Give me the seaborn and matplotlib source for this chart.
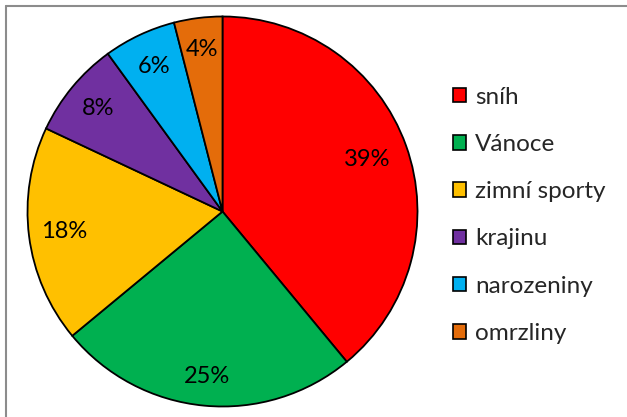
import matplotlib
matplotlib.use("Agg")
import matplotlib.pyplot as plt
import seaborn as sns
import numpy as np
from matplotlib.patches import Patch
from matplotlib.lines import Line2D

categories = ["sníh", "Vánoce", "zimní sporty", "krajinu", "narozeniny", "omrzliny"]
values = [39, 25, 18, 8, 6, 4]
colors_hex = ["#FF0000", "#00B050", "#FFC000", "#7030A0", "#00B0F0", "#E46C0A"]
label_dist = [0.79, 0.85, 0.82, 0.83, 0.82, 0.835]

sns.set_theme(style="white")
plt.rcParams["font.family"] = ["Lato", "DejaVu Sans"]
palette = sns.color_palette(colors_hex)

W, H = 627, 417
fig = plt.figure(figsize=(W / 100, H / 100), dpi=100)
cx, cy, r = 222.5, 211.5, 195
ax = fig.add_axes([(cx - r) / W, (H - cy - r) / H, 2 * r / W, 2 * r / H])
wedges, texts, autotexts = ax.pie(
    values, colors=palette, startangle=90, counterclock=False,
    autopct=lambda p: f"{p:.0f}%", pctdistance=0.8,
    wedgeprops=dict(edgecolor="black", linewidth=1.3),
    textprops=dict(fontsize=17, color="black"),
)
for w, t, d in zip(wedges, autotexts, label_dist):
    ang = np.deg2rad((w.theta1 + w.theta2) / 2)
    t.set_position((d * np.cos(ang), d * np.sin(ang)))
ax.set_xlim(-1.0, 1.0)
ax.set_ylim(-1.0, 1.0)
ax.set_aspect("equal")
ax.axis("off")

handles = [Patch(facecolor=c, edgecolor="black", linewidth=1.2) for c in palette]
fig.legend(handles, categories, loc="upper left", bbox_to_anchor=(443 / W, 1 - 77 / H),
           frameon=False, fontsize=17.5, handlelength=0.55, handleheight=0.55,
           handletextpad=0.38, labelspacing=1.08, borderaxespad=0)

fig.add_artist(Line2D([6 / W, 1.0], [1 - 5.5 / H, 1 - 5.5 / H], transform=fig.transFigure,
                      color="#8c8c8c", linewidth=1.5))
fig.add_artist(Line2D([6 / W, 6 / W], [0, 1 - 5.5 / H], transform=fig.transFigure,
                      color="#8c8c8c", linewidth=1.5))

fig.savefig("out.png", dpi=100)
